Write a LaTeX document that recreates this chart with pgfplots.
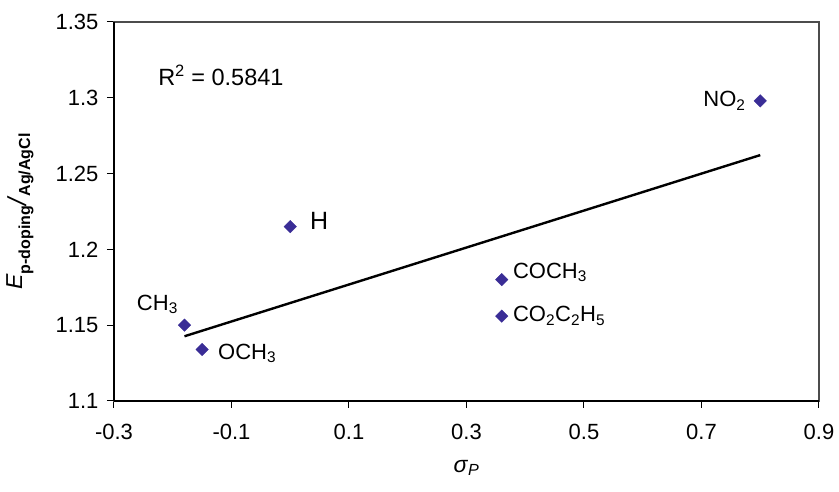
\documentclass[border=0pt]{standalone}
\usepackage{pgfplots}
\pgfplotsset{compat=1.18}
\usepackage{fontspec}
\setmainfont{Liberation Sans}
\definecolor{markblue}{RGB}{58,45,150}

\begin{document}
\begin{tikzpicture}
\useasboundingbox (-114pt,-91pt) rectangle (725pt,401pt);
\begin{axis}[
  at={(0,0)}, anchor=south west,
  scale only axis, width=705pt, height=379pt,
  xmin=-0.3, xmax=0.9, ymin=1.1, ymax=1.35,
  xtick={-0.3,-0.1,0.1,0.3,0.5,0.7,0.9},
  ytick={1.1,1.15,1.2,1.25,1.3,1.35},
  xtick pos=left, ytick pos=left,
  tick align=outside, major tick length=7pt,
  tick style={black, line width=1pt},
  axis line style={draw=black!70, line width=1.2pt},
  clip=false,
  /pgf/number format/assume math mode=true,
  ticklabel style={font=\fontsize{22}{26}\selectfont},
  xticklabel style={yshift=-13pt},
  yticklabel style={xshift=-5pt},
  xlabel={\fontsize{23}{27}\selectfont\textit{σ}\textsubscript{\textit{P}}},
  every axis x label/.style={at={(rel axis cs:0.5,0)}, anchor=center, yshift=-67pt},
  ylabel={\fontsize{23}{27}\selectfont\textit{E}\raisebox{-8pt}{\fontsize{16}{19}\selectfont\bfseries p-doping}\raisebox{-4pt}{\fontsize{26}{30}\selectfont\textit{/}}\raisebox{-8pt}{\fontsize{16}{19}\selectfont\bfseries Ag/AgCl}},
  every axis y label/.style={at={(rel axis cs:0,0.5)}, xshift=-94pt, rotate=90, anchor=center},
]
% axis lines on the two value axes are drawn black and heavier
\draw[black, line width=2.2pt] (rel axis cs:0,0) -- (rel axis cs:1,0);
\draw[black, line width=1.6pt] (rel axis cs:0,0) -- (rel axis cs:0,1);

% linear trend line through the six substituents
\addplot[black, line width=2.4pt] coordinates {(-0.18,1.1427) (0.80,1.2622)};

% measured p-doping potentials
\addplot[only marks, mark=square*, mark size=4.4pt,
  mark options={rotate=45, fill=markblue, draw=markblue}] coordinates {
  (-0.18,1.150)
  (-0.15,1.134)
  (0.00,1.215)
  (0.36,1.180)
  (0.36,1.156)
  (0.80,1.298)
};

\node[anchor=base west, inner sep=0pt, font=\fontsize{23.5}{28}\selectfont] at (axis cs:-0.225,1.3078) {R\textsuperscript{2} = 0.5841};
\node[anchor=base east, inner sep=0pt, font=\fontsize{22}{26}\selectfont] at (axis cs:-0.191,1.160) {CH\textsubscript{3}};
\node[anchor=base west, inner sep=0pt, font=\fontsize{22}{26}\selectfont] at (axis cs:-0.123,1.1277) {OCH\textsubscript{3}};
\node[anchor=base west, inner sep=0pt, font=\fontsize{25}{30}\selectfont] at (axis cs:0.0336,1.2128) {H};
\node[anchor=base west, inner sep=0pt, font=\fontsize{22}{26}\selectfont] at (axis cs:0.379,1.1811) {COCH\textsubscript{3}};
\node[anchor=base west, inner sep=0pt, font=\fontsize{22}{26}\selectfont] at (axis cs:0.379,1.1523) {CO\textsubscript{2}C\textsubscript{2}H\textsubscript{5}};
\node[anchor=base west, inner sep=0pt, font=\fontsize{22}{26}\selectfont] at (axis cs:0.703,1.294) {NO\textsubscript{2}};
\end{axis}
\end{tikzpicture}
\end{document}
